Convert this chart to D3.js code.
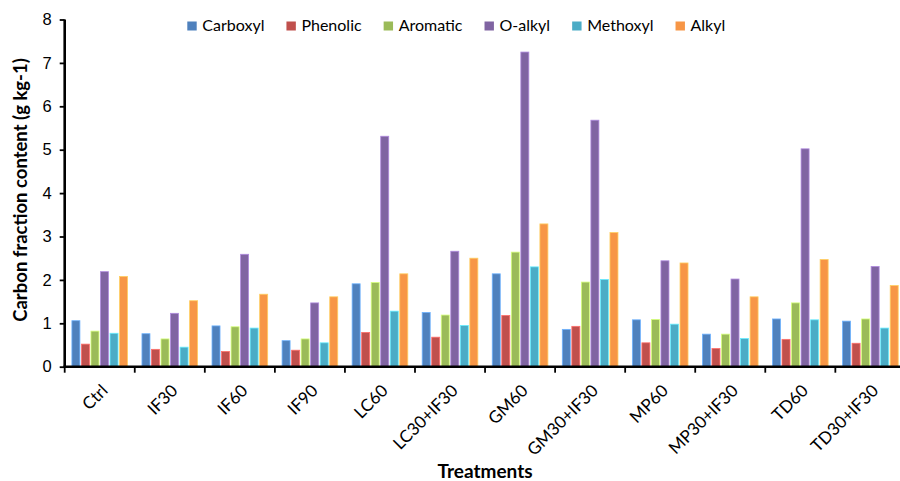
<!DOCTYPE html>
<html><head><meta charset="utf-8">
<script src="https://cdn.jsdelivr.net/npm/d3@7"></script>
<style>body{margin:0;background:#fff}svg{display:block;font-family:Lato,"Open Sans",sans-serif}</style>
</head><body><svg id="c" width="900" height="481"></svg>
<script>
const categories = ["Ctrl","IF30","IF60","IF90","LC60","LC30+IF30","GM60","GM30+IF30","MP60","MP30+IF30","TD60","TD30+IF30"];
const seriesNames = ["Carboxyl","Phenolic","Aromatic","O-alkyl","Methoxyl","Alkyl"];
const seriesColors = ["#4F81BD","#C0504D","#9BBB59","#8064A2","#4BACC6","#F79646"];
const carboxyl = [1.06,0.76,0.94,0.60,1.91,1.25,2.14,0.86,1.08,0.75,1.10,1.05];
const phenolic = [0.52,0.40,0.35,0.38,0.79,0.68,1.18,0.93,0.55,0.42,0.63,0.54];
const aromatic = [0.82,0.64,0.92,0.64,1.94,1.19,2.64,1.95,1.09,0.75,1.47,1.10];
const oalkyl   = [2.19,1.23,2.59,1.47,5.31,2.66,7.25,5.68,2.44,2.02,5.02,2.31];
const methoxyl = [0.77,0.45,0.89,0.55,1.28,0.95,2.30,2.01,0.98,0.65,1.08,0.89];
const alkyl    = [2.08,1.52,1.67,1.61,2.14,2.50,3.29,3.09,2.39,1.61,2.47,1.87];
const yTicks = [0,1,2,3,4,5,6,7,8];
const xTitle = "Treatments";
const yTitle = "Carbon fraction content (g kg-1)";

const seriesValues = [carboxyl, phenolic, aromatic, oalkyl, methoxyl, alkyl];
const svg = d3.select("#c");
const mLeft = 64.7, mBottom = 366.7, mTop = 19.5, mRight = 905.4;

const x0 = d3.scaleBand().domain(categories).range([mLeft, mRight]).padding(0);
const x1 = d3.scaleBand().domain(seriesNames).range([7.2, x0.bandwidth() - 7.2]).paddingInner(0.16).paddingOuter(0);
const y = d3.scaleLinear().domain([0, 8]).range([mBottom, mTop]);
const color = d3.scaleOrdinal().domain(seriesNames).range(seriesColors);

// bars
const g = svg.append("g");
categories.forEach((cat, ci) => {
  const gg = g.append("g").attr("transform", `translate(${x0(cat)},0)`);
  seriesNames.forEach((s, si) => {
    const v = seriesValues[si][ci];
    gg.append("rect")
      .attr("x", x1(s)).attr("width", x1.bandwidth())
      .attr("y", y(v)).attr("height", y(0) - y(v))
      .attr("fill", color(s))
      .attr("stroke", d3.color(color(s)).brighter(0.9))
      .attr("stroke-width", 0.8);
  });
});

// y axis
const yAxis = svg.append("g").attr("transform", `translate(${mLeft},0)`)
  .call(d3.axisLeft(y).tickValues(yTicks).tickFormat(d3.format("d")).tickSize(5).tickPadding(8));
yAxis.select(".domain").attr("stroke", "#000").attr("stroke-width", 2.6).attr("d", `M0,${mTop}V${mBottom}`);
yAxis.selectAll(".tick line").attr("stroke", "#000").attr("stroke-width", 1.8);
yAxis.selectAll(".tick text").attr("font-size", 16.5).attr("fill", "#000");

// x axis
const boundaries = categories.map(c => x0(c));
const xAxisG = svg.append("g").attr("transform", `translate(0,${mBottom})`);
xAxisG.append("line").attr("x1", mLeft - 1.3).attr("x2", mRight).attr("y1", 0).attr("y2", 0)
  .attr("stroke", "#000").attr("stroke-width", 2.6);
xAxisG.selectAll("line.tk").data(boundaries).join("line").attr("class", "tk")
  .attr("x1", d => d).attr("x2", d => d).attr("y1", 0).attr("y2", 6)
  .attr("stroke", "#000").attr("stroke-width", 1.8);
xAxisG.selectAll("text.lbl").data(categories).join("text").attr("class", "lbl")
  .attr("transform", d => `translate(${x0(d) + x0.bandwidth() / 2 + 9},${25}) rotate(-45)`)
  .attr("text-anchor", "end").attr("font-size", 17).attr("fill", "#000")
  .text(d => d);

// titles
svg.append("text").attr("x", (mLeft + mRight) / 2).attr("y", 478).attr("text-anchor", "middle")
  .attr("font-size", 19).attr("font-weight", "bold").text(xTitle);
svg.append("text").attr("transform", `translate(27,190) rotate(-90)`)
  .attr("text-anchor", "middle").attr("font-size", 18.5).attr("font-weight", "bold").text(yTitle);

// legend
const leg = svg.append("g");
let lx = 187.3;
seriesNames.forEach((s, i) => {
  leg.append("rect").attr("x", lx).attr("y", 21.5).attr("width", 9.4).attr("height", 9).attr("fill", color(s));
  const t = leg.append("text").attr("x", lx + 15).attr("y", 30.7).attr("font-size", 16).attr("fill", "#000").text(s);
  const w = t.node().getComputedTextLength();
  lx += 15 + w + 22;
});
</script></body></html>
